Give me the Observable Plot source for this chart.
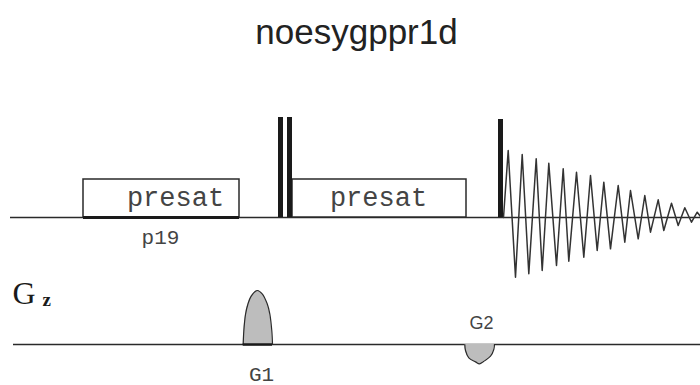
<!DOCTYPE html>
<html>
<head>
<meta charset="utf-8">
<script src="https://cdn.jsdelivr.net/npm/d3@7"></script>
<script src="https://cdn.jsdelivr.net/npm/@observablehq/plot@0.6"></script>
<style>
  html, body { margin: 0; padding: 0; background: #fff; }
  #chart svg { display: block; }
</style>
</head>
<body>
<div id="chart"></div>
<script>
// noesygppr1d: 1D NOESY with presaturation and gradient pulses
const title = "noesygppr1d";

// Channel lines (start of each line along the time axis)
const channelNames = ["rf", "Gz"];
const channelStart = [10, 13];

// Hard 90° pulses (time start / end, amplitude)
const pulseStart = [278, 287, 498];
const pulseEnd = [283, 292, 503];
const pulseAmp = [100, 100, 98];

// Presaturation blocks
const presatStart = [83, 292];
const presatEnd = [239, 466];
const presatAmp = [38, 38];
const presatLabel = ["presat", "presat"];

// Power level label below the first presaturation block
const powerLabel = ["p19"];
const powerLabelTime = [160];

// Acquired FID (time, signal)
const fidTime = [503, 507.7, 515, 521.7, 528.3, 535.7, 541.7, 548.3, 556, 562.7, 568.3, 576, 583.3, 590, 596.7,
  603.3, 610, 617.7, 624.3, 630, 637.7, 644.3, 650, 657.7, 663.3, 671, 677.7, 684.3, 691, 696.7, 700];
const fidSignal = [0, 67, -59.7, 63, -56.3, 58.7, -53, 54.3, -48, 48.7, -43.7, 45.3, -39.7, 42, -33,
  35.3, -31.3, 32, -24.7, 27, -21.3, 22, -14.7, 17.7, -13, 14.3, -8, 9.7, -4.7, 5.3, 1];

// Gradient pulse G1 (positive lobe)
const g1Time = [242.7, 243.3, 245, 247.3, 250.7, 256.7, 261.7, 266.7, 269.3, 271.3, 272];
const g1Amp = [0, 13.3, 30, 40, 48.3, 54, 50.7, 40.7, 30.7, 13.7, 0];

// Gradient pulse G2 (negative lobe)
const g2Time = [464.3, 465, 468.3, 475, 479, 483.3, 490, 493.3, 494];
const g2Amp = [0, -6, -13.4, -17.4, -19.4, -16.7, -11.7, -5, 0];

const gradLabel = ["G1", "G2"];
const gradLabelTime = [261, 481];

// Layout: vertical offsets of the two channel baselines (SVG units from the bottom)
const W = 700, H = 385;
const rfBase = H - 217;
const gzBase = H - 344;
const ink = "#2a2a2a";

const idx = a => a.map((_, i) => i);
const pulses = idx(pulseStart).map(i => ({x1: pulseStart[i], x2: pulseEnd[i], y1: rfBase, y2: rfBase + pulseAmp[i]}));
const presat = idx(presatStart).map(i => ({x1: presatStart[i], x2: presatEnd[i], y1: rfBase, y2: rfBase + presatAmp[i], label: presatLabel[i]}));
const fid = idx(fidTime).map(i => ({t: fidTime[i], y: rfBase + fidSignal[i]}));
const g1 = idx(g1Time).map(i => ({t: g1Time[i], y: gzBase + g1Amp[i]}));
const g2 = idx(g2Time).map(i => ({t: g2Time[i], y: gzBase + g2Amp[i]}));
const lines = idx(channelNames).map(i => ({x1: channelStart[i], x2: W, y: i === 0 ? rfBase : gzBase}));

const chart = Plot.plot({
  width: W,
  height: H,
  margin: 0,
  x: {domain: [0, W], range: [0, W], axis: null},
  y: {domain: [0, H], range: [H, 0], axis: null},
  marks: [
    // channel baselines
    Plot.ruleY(lines, {x1: "x1", x2: "x2", y: "y", stroke: ink, strokeWidth: 1.6}),
    // presaturation blocks
    Plot.rect(presat, {x1: "x1", x2: "x2", y1: "y1", y2: "y2", fill: "white", stroke: ink, strokeWidth: 1.5}),
    Plot.ruleY(presat.slice(0, 1), {x1: "x1", x2: "x2", y: "y1", stroke: "#1a1a1a", strokeWidth: 3}),
    Plot.text(presat, {x: d => (d.x1 + d.x2) / 2 + (d.x1 < 100 ? 14 : -1), y: rfBase + 12, text: "label",
      fontFamily: "Liberation Mono", fontSize: 27, fill: "#444", lineAnchor: "bottom"}),
    Plot.text(powerLabel, {x: powerLabelTime, y: rfBase - 26, text: d => d,
      fontFamily: "Liberation Mono", fontSize: 21, fill: "#444", lineAnchor: "bottom"}),
    // hard pulses
    Plot.rect(pulses, {x1: "x1", x2: "x2", y1: "y1", y2: "y2", fill: "#1a1a1a"}),
    // FID
    Plot.line(fid, {x: "t", y: "y", stroke: "#333", strokeWidth: 1.5, curve: "linear"}),
    // gradient pulses
    Plot.areaY(g1, {x: "t", y1: gzBase, y2: "y", fill: "#bdbdbd", curve: "catmull-rom"}),
    Plot.line(g1, {x: "t", y: "y", stroke: ink, strokeWidth: 1.2, curve: "catmull-rom"}),
    Plot.ruleY([gzBase], {x1: g1Time[0], x2: g1Time[g1Time.length - 1], stroke: "#1a1a1a", strokeWidth: 2.5}),
    Plot.areaY(g2, {x: "t", y1: gzBase, y2: "y", fill: "#bdbdbd", curve: "catmull-rom"}),
    Plot.line(g2, {x: "t", y: "y", stroke: ink, strokeWidth: 1.2, curve: "catmull-rom"}),
    // gradient labels
    Plot.text([gradLabel[0]], {x: gradLabelTime[0], y: H - 380, text: d => d,
      fontFamily: "Liberation Mono", fontSize: 21, fill: "#444", lineAnchor: "bottom"}),
    Plot.text([gradLabel[1]], {x: gradLabelTime[1], y: H - 328, text: d => d,
      fontFamily: "Liberation Sans", fontSize: 18, fill: "#444", lineAnchor: "bottom"}),
    // channel label G_z
    Plot.text(["G"], {x: 12, y: H - 303, text: d => d, textAnchor: "start",
      fontFamily: "Liberation Serif", fontSize: 32, fill: "#1a1a1a", lineAnchor: "bottom"}),
    Plot.text(["z"], {x: 42, y: H - 305, text: d => d, textAnchor: "start",
      fontFamily: "Liberation Serif", fontWeight: "bold", fontSize: 19, fill: "#1a1a1a", lineAnchor: "bottom"}),
    // title
    Plot.text([title], {x: 356, y: H - 43, text: d => d,
      fontFamily: "Liberation Sans", fontSize: 35, fill: "#222", lineAnchor: "bottom"})
  ]
});

document.getElementById("chart").append(chart);
</script>
</body>
</html>
